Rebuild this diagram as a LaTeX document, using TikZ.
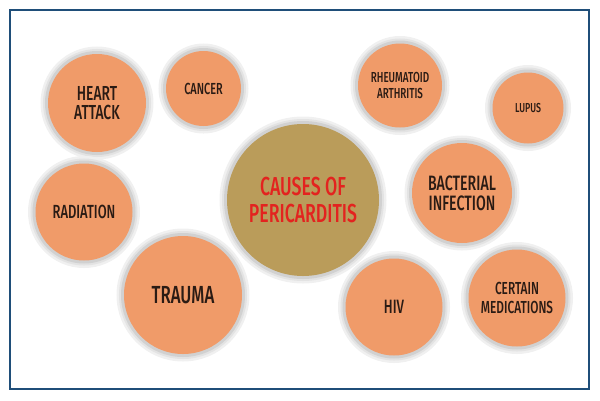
\documentclass[tikz,border=0pt]{standalone}
\usepackage{fontspec}
\setmainfont{Fira Sans}[UprightFont=* Medium, FakeStretch=0.68]
\definecolor{frameblue}{HTML}{1F4E79}
\definecolor{causeorange}{HTML}{F09B69}
\definecolor{hubgold}{HTML}{BA9C5A}
\definecolor{hubred}{HTML}{E3231F}
\definecolor{causetext}{HTML}{2A1B14}
\tikzset{
	bubble/.style={circle, fill=causeorange, text=causetext, align=center, inner sep=0pt,
		preaction={draw=black!6, line width=15},
		preaction={draw=black!11, line width=10},
		preaction={draw=black!18, line width=6}},
	hub/.style={bubble, fill=hubgold, text=hubred}
}
\newcommand{\fs}[2]{\fontsize{#1}{#2}\selectfont}

\begin{document}
\begin{tikzpicture}[x=1pt, y=-1pt]
			%%%%% FRAME %%%%%
			
			\useasboundingbox (0, 0) rectangle (600, 400);
			\draw[frameblue, line width=2.5] (10, 10) rectangle (589, 389);
			
			%%%%% CENTRE %%%%%
			
			\node[hub, minimum size=152, font=\fs{26}{27}] (causes) at (303, 200) {CAUSES OF\\PERICARDITIS};
			
			%%%%% LEFT %%%%%
			
			\node[bubble, minimum size=98, font=\fs{20.3}{19}] (heart) at (97, 103) {HEART\\ATTACK};
			\node[bubble, minimum size=75, font=\fs{16}{16}] (cancer) at (203.5, 88.5) {CANCER};
			\node[bubble, minimum size=97, font=\fs{19}{19}] (radiation) at (84, 212) {RADIATION};
			\node[bubble, minimum size=118, font=\fs{24.7}{24}] (trauma) at (183, 295) {TRAUMA};
			
			%%%%% RIGHT %%%%%
			
			\node[bubble, minimum size=84, font=\fs{14.5}{16}] (rheuma) at (400, 85.5) {RHEUMATOID\\ARTHRITIS};
			\node[bubble, minimum size=71, font=\fs{13}{13}] (lupus) at (528, 108) {LUPUS};
			\node[bubble, minimum size=100, font=\fs{20.8}{20}] (bacterial) at (462, 193) {BACTERIAL\\INFECTION};
			\node[bubble, minimum size=97, font=\fs{19.3}{19}] (hiv) at (394, 307) {HIV};
			\node[bubble, minimum size=97, font=\fs{17.4}{19}] (meds) at (517, 298) {CERTAIN\\MEDICATIONS};
			
			%%%%% END %%%%%
\end{tikzpicture}
\end{document}
